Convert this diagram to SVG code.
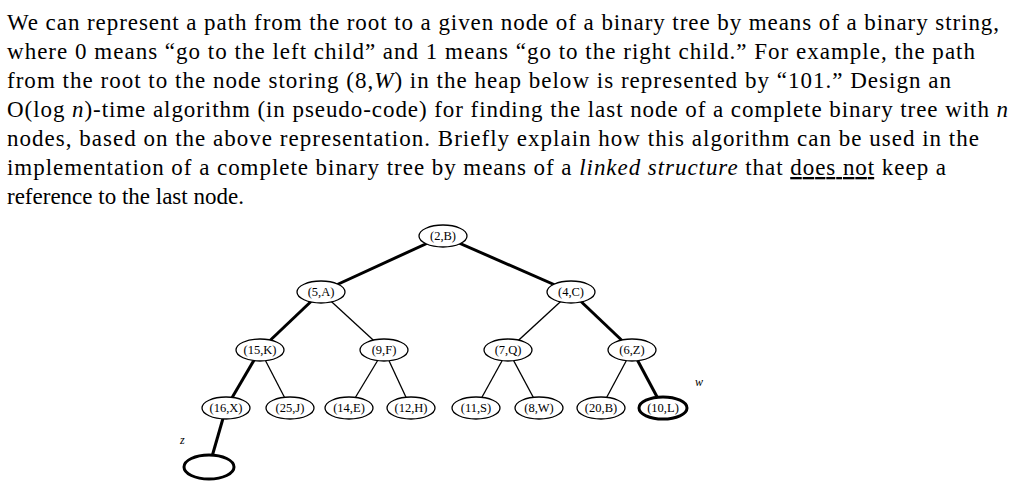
<svg xmlns="http://www.w3.org/2000/svg" width="1024" height="495" viewBox="0 0 1024 495">
<style>
.t{font-family:"Liberation Serif",serif;font-size:23px;fill:#000}
.n ellipse{fill:#fff;stroke:#000;stroke-width:1.3}
.n text{font-family:"Liberation Serif",serif;font-size:12.5px;text-anchor:middle;fill:#000}
.e line{stroke:#000;stroke-width:1.3}
.e line.k{stroke-width:3}
.lbl{font-family:"Liberation Serif",serif;font-size:12px;font-style:italic}
</style>
<rect width="1024" height="495" fill="#fff"/>
<text class="t" x="7" y="30" textLength="992" lengthAdjust="spacing">We can represent a path from the root to a given node of a binary tree by means of a binary string,</text>
<text class="t" x="7" y="59" textLength="968" lengthAdjust="spacing">where 0 means “go to the left child” and 1 means “go to the right child.”  For example, the path</text>
<text class="t" x="7" y="88" textLength="944" lengthAdjust="spacing">from the root to the node storing (8,<tspan font-style="italic">W</tspan>) in the heap below is represented by “101.”  Design an</text>
<text class="t" x="7" y="117" textLength="1001" lengthAdjust="spacing">O(log <tspan font-style="italic">n</tspan>)-time algorithm (in pseudo-code) for finding the last node of a complete binary tree with <tspan font-style="italic">n</tspan></text>
<text class="t" x="7" y="146" textLength="972" lengthAdjust="spacing">nodes, based on the above representation.  Briefly explain how this algorithm can be used in the</text>
<text class="t" x="7" y="175" textLength="939" lengthAdjust="spacing">implementation of a complete binary tree by means of a <tspan font-style="italic">linked structure</tspan> that <tspan text-decoration="underline">does not</tspan> keep a</text>
<text class="t" x="7" y="204">reference to the last node.</text>
<g class="e" id="connectors">
<line class="k" x1="443" y1="236" x2="321" y2="292"/>
<line class="k" x1="443" y1="236" x2="571" y2="292"/>
<line class="k" x1="321" y1="292" x2="260" y2="350"/>
<line x1="321" y1="292" x2="384" y2="350"/>
<line x1="571" y1="292" x2="508" y2="350"/>
<line class="k" x1="571" y1="292" x2="632" y2="350"/>
<line class="k" x1="260" y1="350" x2="226" y2="408"/>
<line x1="260" y1="350" x2="290" y2="408"/>
<line x1="384" y1="350" x2="349" y2="408"/>
<line x1="384" y1="350" x2="411" y2="408"/>
<line x1="508" y1="350" x2="476" y2="408"/>
<line x1="508" y1="350" x2="539" y2="408"/>
<line x1="632" y1="350" x2="601" y2="408"/>
<line class="k" x1="632" y1="350" x2="663" y2="408"/>
<line class="k" x1="226" y1="408" x2="209" y2="467"/>
</g>
<g class="n" id="n2B"><ellipse cx="443" cy="236" rx="24" ry="11"/><text x="443" y="240">(2,B)</text></g>
<g class="n" id="n5A"><ellipse cx="321" cy="292" rx="24" ry="11"/><text x="321" y="296">(5,A)</text></g>
<g class="n" id="n4C"><ellipse cx="571" cy="292" rx="24" ry="11"/><text x="571" y="296">(4,C)</text></g>
<g class="n" id="n15K"><ellipse cx="260" cy="350" rx="24" ry="11"/><text x="260" y="354">(15,K)</text></g>
<g class="n" id="n9F"><ellipse cx="384" cy="350" rx="24" ry="11"/><text x="384" y="354">(9,F)</text></g>
<g class="n" id="n7Q"><ellipse cx="508" cy="350" rx="24" ry="11"/><text x="508" y="354">(7,Q)</text></g>
<g class="n" id="n6Z"><ellipse cx="632" cy="350" rx="24" ry="11"/><text x="632" y="354">(6,Z)</text></g>
<g class="n" id="n16X"><ellipse cx="226" cy="408" rx="24" ry="11"/><text x="226" y="412">(16,X)</text></g>
<g class="n" id="n25J"><ellipse cx="290" cy="408" rx="24" ry="11"/><text x="290" y="412">(25,J)</text></g>
<g class="n" id="n14E"><ellipse cx="349" cy="408" rx="24" ry="11"/><text x="349" y="412">(14,E)</text></g>
<g class="n" id="n12H"><ellipse cx="411" cy="408" rx="24" ry="11"/><text x="411" y="412">(12,H)</text></g>
<g class="n" id="n11S"><ellipse cx="476" cy="408" rx="24" ry="11"/><text x="476" y="412">(11,S)</text></g>
<g class="n" id="n8W"><ellipse cx="539" cy="408" rx="24" ry="11"/><text x="539" y="412">(8,W)</text></g>
<g class="n" id="n20B"><ellipse cx="601" cy="408" rx="24" ry="11"/><text x="601" y="412">(20,B)</text></g>
<g class="n" id="n10L"><ellipse cx="663" cy="408" rx="24" ry="11" style="stroke-width:3"/><text x="663" y="412">(10,L)</text></g>
<g class="n" id="nz"><ellipse cx="209" cy="467" rx="25" ry="12" style="stroke-width:3"/></g>
<text class="lbl" x="180" y="444">z</text>
<text class="lbl" x="695" y="386">w</text>
</svg>
